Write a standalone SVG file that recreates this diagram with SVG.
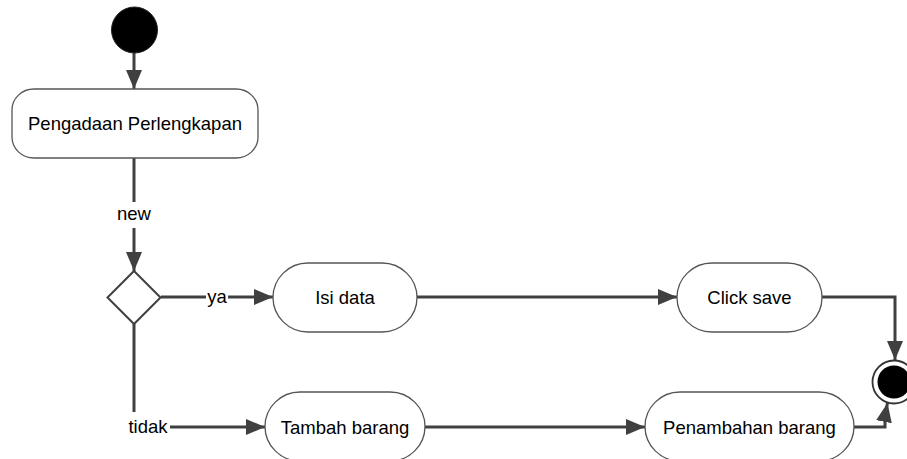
<svg xmlns="http://www.w3.org/2000/svg" width="907" height="459" viewBox="0 0 907 459">
<defs>
<style>
.node{fill:#fff;stroke:#555;stroke-width:1.3}
.edge{fill:none;stroke:#404040;stroke-width:3}
.lbl{font-family:"Liberation Sans",Arial,sans-serif;font-size:18.5px;fill:#000;text-anchor:middle}
.elbl{font-family:"Liberation Sans",Arial,sans-serif;font-size:18.5px;fill:#000;text-anchor:middle}
</style>
<marker id="arr" markerUnits="userSpaceOnUse" markerWidth="20" markerHeight="16" viewBox="0 0 20 16" refX="19" refY="8" orient="auto">
<path d="M0,0 L19,8 L0,16 Z" fill="#404040"/>
</marker>
</defs>
<rect width="907" height="459" fill="#fff"/>
<g id="connectors">
<path class="edge" d="M134,53 V89" marker-end="url(#arr)"/>
<path class="edge" d="M134,158 V202"/>
<path class="edge" d="M134,228 V271" marker-end="url(#arr)"/>
<path class="edge" d="M161,297 H206"/>
<path class="edge" d="M228,297 H273" marker-end="url(#arr)"/>
<path class="edge" d="M134,324 V412"/>
<path class="edge" d="M170,427 H265" marker-end="url(#arr)"/>
<path class="edge" d="M417,297 H677" marker-end="url(#arr)"/>
<path class="edge" d="M425,427 H645" marker-end="url(#arr)"/>
<path class="edge" d="M822,297 H895 V360" marker-end="url(#arr)"/>
<path class="edge" d="M854,427 H885 V416 L887.5,403" marker-end="url(#arr)"/>
<text class="elbl" x="134" y="220">new</text>
<text class="elbl" x="217" y="303">ya</text>
<text class="elbl" x="148" y="433">tidak</text>
</g>
<g id="start">
<circle cx="134.5" cy="30" r="23" fill="#000" stroke="#222" stroke-width="1"/>
</g>
<g id="pengadaan">
<rect class="node" x="12" y="89" width="246" height="69" rx="22" ry="21"/>
<text class="lbl" x="135" y="130">Pengadaan Perlengkapan</text>
</g>
<g id="decision">
<polygon points="134,271 160.5,297.5 134,324 107.5,297.5" fill="#fff" stroke="#404040" stroke-width="2"/>
</g>
<g id="isi-data">
<rect class="node" x="273" y="263" width="144" height="69" rx="35" ry="34.5"/>
<text class="lbl" x="345" y="304">Isi data</text>
</g>
<g id="click-save">
<rect class="node" x="677" y="263" width="145" height="69" rx="35" ry="34.5"/>
<text class="lbl" x="749.5" y="304">Click save</text>
</g>
<g id="tambah-barang">
<rect class="node" x="265" y="392" width="160" height="69" rx="35" ry="34.5"/>
<text class="lbl" x="345" y="434">Tambah barang</text>
</g>
<g id="penambahan-barang">
<rect class="node" x="645" y="392" width="209" height="69" rx="35" ry="34.5"/>
<text class="lbl" x="749.5" y="434">Penambahan barang</text>
</g>
<g id="end">
<circle cx="894" cy="382" r="21.5" fill="#fff" stroke="#333" stroke-width="1.8"/>
<circle cx="894" cy="382" r="16.5" fill="#000"/>
</g>
</svg>
